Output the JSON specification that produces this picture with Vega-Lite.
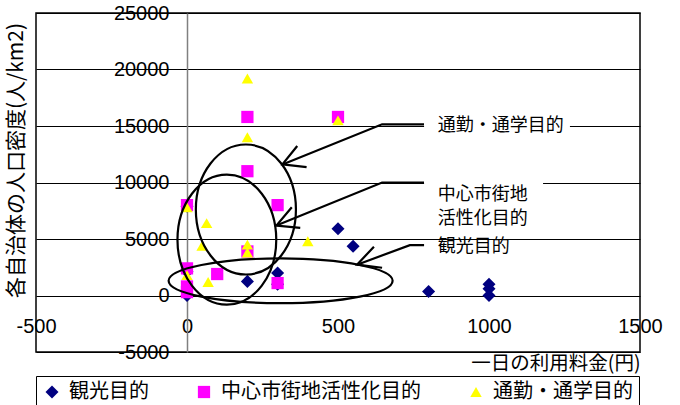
{
  "$schema": "https://vega.github.io/schema/vega-lite/v6.json",
  "width": 604,
  "height": 339,
  "autosize": {"type": "none"},
  "padding": {"left": 36, "top": 13, "right": 40, "bottom": 53},
  "config": {
    "view": {"stroke": "black", "strokeWidth": 1.5},
    "font": "Liberation Sans"
  },
  "datasets": {
    "pts": [
      {"fee": 0, "density": 7900, "purpose": "観光目的"},
      {"fee": 0, "density": 2100, "purpose": "観光目的"},
      {"fee": 0, "density": 0, "purpose": "観光目的"},
      {"fee": 200, "density": 1250, "purpose": "観光目的"},
      {"fee": 300, "density": 2000, "purpose": "観光目的"},
      {"fee": 300, "density": 1000, "purpose": "観光目的"},
      {"fee": 500, "density": 5900, "purpose": "観光目的"},
      {"fee": 550, "density": 4350, "purpose": "観光目的"},
      {"fee": 800, "density": 350, "purpose": "観光目的"},
      {"fee": 1000, "density": 1000, "purpose": "観光目的"},
      {"fee": 1000, "density": 600, "purpose": "観光目的"},
      {"fee": 1000, "density": 0, "purpose": "観光目的"},
      {"fee": 0, "density": 8000, "purpose": "中心市街地活性化目的"},
      {"fee": 0, "density": 2400, "purpose": "中心市街地活性化目的"},
      {"fee": 0, "density": 800, "purpose": "中心市街地活性化目的"},
      {"fee": 0, "density": 300, "purpose": "中心市街地活性化目的"},
      {"fee": 100, "density": 1900, "purpose": "中心市街地活性化目的"},
      {"fee": 200, "density": 15800, "purpose": "中心市街地活性化目的"},
      {"fee": 500, "density": 15800, "purpose": "中心市街地活性化目的"},
      {"fee": 200, "density": 11000, "purpose": "中心市街地活性化目的"},
      {"fee": 300, "density": 8000, "purpose": "中心市街地活性化目的"},
      {"fee": 200, "density": 3900, "purpose": "中心市街地活性化目的"},
      {"fee": 300, "density": 1100, "purpose": "中心市街地活性化目的"},
      {"fee": 200, "density": 19200, "purpose": "通勤・通学目的"},
      {"fee": 500, "density": 15500, "purpose": "通勤・通学目的"},
      {"fee": 200, "density": 14000, "purpose": "通勤・通学目的"},
      {"fee": 0, "density": 7800, "purpose": "通勤・通学目的"},
      {"fee": 65, "density": 6400, "purpose": "通勤・通学目的"},
      {"fee": 50, "density": 4400, "purpose": "通勤・通学目的"},
      {"fee": 200, "density": 4500, "purpose": "通勤・通学目的"},
      {"fee": 200, "density": 3800, "purpose": "通勤・通学目的"},
      {"fee": 400, "density": 4800, "purpose": "通勤・通学目的"},
      {"fee": 70, "density": 1200, "purpose": "通勤・通学目的"},
      {"fee": 0, "density": 1800, "purpose": "通勤・通学目的"}
    ],
    "arrows": [
      {"seg": "a1s", "o": 1, "fee": 785, "density": 15150},
      {"seg": "a1s", "o": 2, "fee": 646, "density": 15150},
      {"seg": "a1s", "o": 3, "fee": 316, "density": 11600},
      {"seg": "a1h", "o": 1, "fee": 365, "density": 13225},
      {"seg": "a1h", "o": 2, "fee": 316, "density": 11600},
      {"seg": "a1h", "o": 3, "fee": 396, "density": 11360},
      {"seg": "a2s", "o": 1, "fee": 785, "density": 10000},
      {"seg": "a2s", "o": 2, "fee": 646, "density": 10000},
      {"seg": "a2s", "o": 3, "fee": 296, "density": 6186},
      {"seg": "a2h", "o": 1, "fee": 347, "density": 7810},
      {"seg": "a2h", "o": 2, "fee": 296, "density": 6186},
      {"seg": "a2h", "o": 3, "fee": 375, "density": 5982},
      {"seg": "a3s", "o": 1, "fee": 785, "density": 4455},
      {"seg": "a3s", "o": 2, "fee": 738, "density": 4455},
      {"seg": "a3s", "o": 3, "fee": 563, "density": 2725},
      {"seg": "a3h", "o": 1, "fee": 619, "density": 4322},
      {"seg": "a3h", "o": 2, "fee": 563, "density": 2725},
      {"seg": "a3h", "o": 3, "fee": 646, "density": 2458}
    ],
    "boxes": [
      {"fee": 785, "fee2": 1268, "density": 16030, "density2": 13900},
      {"fee": 785, "fee2": 1179, "density": 11160, "density2": 6810}
    ],
    "labels": [
      {"t": "通勤・通学目的", "fee": 830, "density": 15000},
      {"t": "中心市街地\n活性化目的", "fee": 830, "density": 8880},
      {"t": "観光目的", "fee": 830, "density": 4320}
    ]
  },
  "layer": [
    {
      "data": {"name": "pts"},
      "mark": {"type": "point", "filled": true, "opacity": 1, "strokeWidth": 0},
      "encoding": {
        "x": {
          "field": "fee", "type": "quantitative",
          "scale": {"domain": [-500, 1500], "nice": false, "zero": false},
          "axis": {
            "values": [-500, 0, 500, 1000, 1500],
            "offset": -56.5,
            "grid": false, "ticks": false, "tickSize": 0, "domain": false,
            "labelPadding": 31, "labelBaseline": "middle",
            "labelFontSize": 20, "labelFont": "Liberation Sans", "labelColor": "black",
            "labelFlush": false, "labelOverlap": false,
            "labelExpr": "'' + datum.value",
            "title": "一日の利用料金(円)",
            "titleFont": "Noto Sans CJK JP", "titleFontSize": 19.5, "titleFontWeight": "normal",
            "titleColor": "black", "titleX": 604, "titleY": 68,
            "titleAlign": "right", "titleBaseline": "middle"
          }
        },
        "y": {
          "field": "density", "type": "quantitative",
          "scale": {"domain": [-5000, 25000], "nice": false, "zero": false},
          "axis": {
            "values": [-5000, 0, 5000, 10000, 15000, 20000, 25000],
            "offset": -151,
            "grid": true, "gridColor": "black", "gridWidth": 1, "gridOpacity": 1,
            "ticks": false, "tickSize": 0,
            "domainColor": "#808080", "domainWidth": 1.5,
            "labelPadding": 18, "labelFontSize": 20, "labelFont": "Liberation Sans",
            "labelColor": "black", "labelOverlap": false, "labelFlush": false,
            "labelExpr": "'' + datum.value",
            "title": "各自治体の人口密度(人/km2)",
            "titleFont": "Noto Sans CJK JP", "titleFontSize": 21, "titleFontWeight": "normal",
            "titleColor": "black", "titleX": -171, "titleY": 147, "titleAngle": -90,
            "titleAlign": "center", "titleBaseline": "middle"
          }
        },
        "color": {
          "field": "purpose", "type": "nominal",
          "scale": {"domain": ["観光目的", "中心市街地活性化目的", "通勤・通学目的"], "range": ["#000080", "#FF00FF", "#FFFF00"]},
          "legend": {
            "orient": "none", "legendX": 0, "legendY": 363, "direction": "horizontal",
            "title": null, "strokeColor": "black", "padding": 6,
            "labelFontSize": 20, "labelFont": "Noto Sans CJK JP", "labelColor": "black",
            "labelLimit": 400, "columnPadding": 45, "labelOffset": 7, "symbolStrokeWidth": 0
          }
        },
        "shape": {
          "field": "purpose", "type": "nominal",
          "scale": {"domain": ["観光目的", "中心市街地活性化目的", "通勤・通学目的"], "range": ["diamond", "square", "triangle-up"]}
        },
        "size": {
          "field": "purpose", "type": "nominal",
          "scale": {"domain": ["観光目的", "中心市街地活性化目的", "通勤・通学目的"], "range": [170, 130, 210]}
        }
      }
    },
    {
      "data": {"values": [{"fee": 195, "density": 7610}]},
      "mark": {"type": "point", "filled": false, "color": "black", "opacity": 1, "strokeWidth": 2.2, "size": 16900,
               "shape": "M0,-1 A0.77,1 0 0 1 0.77,0 A0.77,1 0 0 1 0,1 A0.77,1 0 0 1 -0.77,0 A0.77,1 0 0 1 0,-1 Z"},
      "encoding": {
        "x": {"field": "fee", "type": "quantitative"},
        "y": {"field": "density", "type": "quantitative"}
      }
    },
    {
      "data": {"values": [{"fee": 132, "density": 4940}]},
      "mark": {"type": "point", "filled": false, "color": "black", "opacity": 1, "strokeWidth": 2.2, "size": 16900,
               "shape": "M0,-1 A0.76,1 0 0 1 0.76,0 A0.76,1 0 0 1 0,1 A0.76,1 0 0 1 -0.76,0 A0.76,1 0 0 1 0,-1 Z"},
      "encoding": {
        "x": {"field": "fee", "type": "quantitative"},
        "y": {"field": "density", "type": "quantitative"}
      }
    },
    {
      "data": {"values": [{"fee": 310, "density": 1300}]},
      "mark": {"type": "point", "filled": false, "color": "black", "opacity": 1, "strokeWidth": 2.2, "size": 50176,
               "shape": "M-1,0 A1,0.2 0 0 1 0,-0.2 A1,0.2 0 0 1 1,0 A1,0.2 0 0 1 0,0.2 A1,0.2 0 0 1 -1,0 Z"},
      "encoding": {
        "x": {"field": "fee", "type": "quantitative"},
        "y": {"field": "density", "type": "quantitative"}
      }
    },
    {
      "data": {"name": "arrows"},
      "mark": {"type": "line", "color": "black", "strokeWidth": 2.2},
      "encoding": {
        "x": {"field": "fee", "type": "quantitative"},
        "y": {"field": "density", "type": "quantitative"},
        "detail": {"field": "seg", "type": "nominal"},
        "order": {"field": "o", "type": "quantitative"}
      }
    },
    {
      "data": {"name": "boxes"},
      "mark": {"type": "rect", "fill": "white"},
      "encoding": {
        "x": {"field": "fee", "type": "quantitative"},
        "x2": {"field": "fee2"},
        "y": {"field": "density", "type": "quantitative"},
        "y2": {"field": "density2"}
      }
    },
    {
      "data": {"name": "labels"},
      "mark": {"type": "text", "align": "left", "baseline": "middle", "font": "Noto Sans CJK JP", "fontSize": 18, "lineHeight": 24, "lineBreak": "\n", "color": "black"},
      "encoding": {
        "x": {"field": "fee", "type": "quantitative"},
        "y": {"field": "density", "type": "quantitative"},
        "text": {"field": "t"}
      }
    }
  ]
}
